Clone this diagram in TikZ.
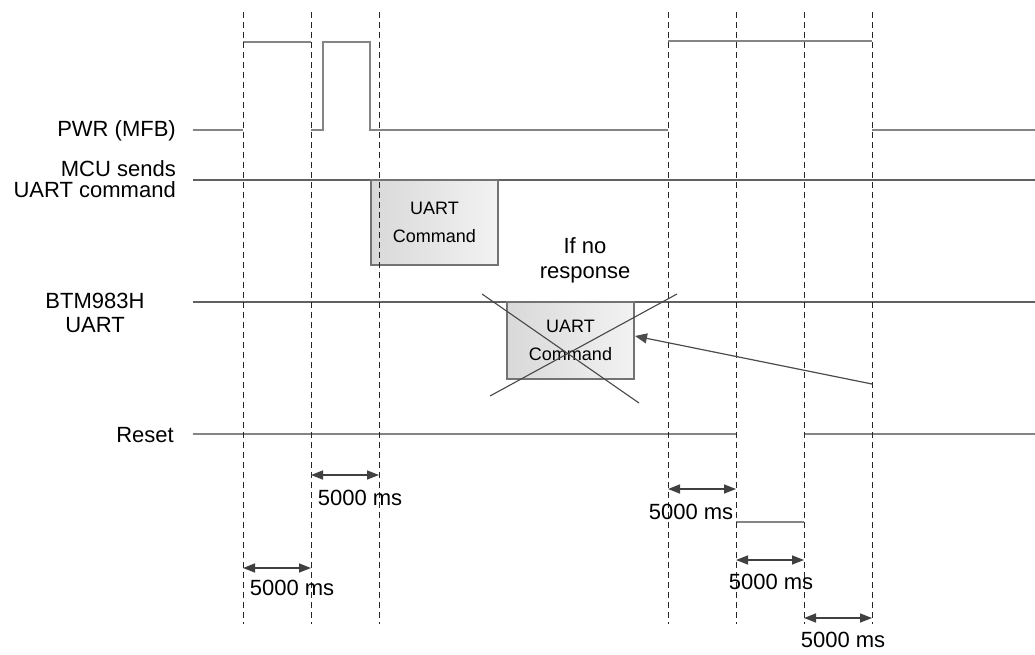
\documentclass[tikz,border=0pt]{standalone}
\usepackage{fontspec}
\setmainfont{Liberation Sans}
\usetikzlibrary{arrows.meta}
\begin{document}
\begin{tikzpicture}[x=1pt,y=-1pt,
  gridline/.style={line width=0.9pt, dash pattern=on 6pt off 4pt, black!85},
  wave/.style={line width=1.5pt, color=black!48},
  sig/.style={line width=1.2pt, color=black!62},
  dimarrow/.style={line width=1.5pt, color=black!75,
    {Triangle[length=12pt,width=9pt]}-{Triangle[length=12pt,width=9pt]}},
  pointer/.style={line width=1.2pt, color=black!70, -{Triangle[length=12pt,width=10pt]}},
  xline/.style={line width=1.1pt, color=black!72},
  lbl/.style={font=\fontsize{22}{24}\selectfont, inner sep=0pt},
  dimlbl/.style={font=\fontsize{22}{24}\selectfont, inner sep=0pt},
  cmdbox/.style={draw=black!55, line width=1.2pt, left color=black!15, right color=black!5,
    minimum width=127pt, minimum height=85pt, font=\fontsize{18}{27.5}\selectfont,
    align=center, inner sep=0pt},
  ]
\useasboundingbox (0,0) rectangle (1035,655);

% signal labels
\node[lbl, anchor=base east] (pwr) at (176,137) {PWR (MFB)};
\node[lbl, anchor=east, align=right, font=\fontsize{22}{21}\selectfont] (mcu) at (176,179.5) {MCU sends\\UART command};
\node[lbl, align=center, font=\fontsize{22}{24}\selectfont] (btm) at (95,313) {BTM983H\\UART};
\node[lbl, anchor=base east] (rst) at (174,442) {Reset};

% waveforms (edges on the time markers are hidden by the dashed lines)
\draw[wave] (193,130) -- (243,130);
\draw[wave] (243,42) -- (311,42);
\draw[wave] (311,130) -- (323,130) -- (323,42) -- (370,42) -- (370,130) -- (668,130);
\draw[wave] (668,41) -- (872,41);
\draw[wave] (872,130) -- (1035,130);
\draw[sig] (193,180) -- (1035,180);
\draw[sig] (193,302) -- (1035,302);
\draw[wave] (193,434) -- (736,434);
\draw[wave] (736,522) -- (804,522);
\draw[wave] (804,434) -- (1035,434);

% command boxes
\node[cmdbox] (cmd1) at (434.5,222.5) {UART\\Command};
\node[cmdbox, minimum height=77pt] (cmd2) at (570.5,340.5) {UART\\Command};

% dashed time markers
\foreach \x in {243,311,379,668,736,804,872}
  \draw[gridline] (\x,12) -- (\x,624);

% cross over second box
\coordinate (xa) at (482,294);
\coordinate (xb) at (639,403);
\coordinate (xc) at (677,294);
\coordinate (xd) at (490,396);
\draw[xline] (xa) -- (xb);
\draw[xline] (xc) -- (xd);

\node[lbl, align=center, font=\fontsize{22}{25}\selectfont] (nores) at (585,260.5) {If no\\response};

% pointer arrow
\coordinate (ptail) at (872,384);
\coordinate (phead) at (635,336);
\draw[pointer] (ptail) -- (phead);

% dimension arrows
\coordinate (d1a) at (311,475); \coordinate (d1b) at (379,475);
\coordinate (d2a) at (243,568); \coordinate (d2b) at (311,568);
\coordinate (d3a) at (668,489); \coordinate (d3b) at (736,489);
\coordinate (d4a) at (736,560); \coordinate (d4b) at (804,560);
\coordinate (d5a) at (804,618); \coordinate (d5b) at (872,618);
\draw[dimarrow] (d1a) -- (d1b);
\draw[dimarrow] (d2a) -- (d2b);
\draw[dimarrow] (d3a) -- (d3b);
\draw[dimarrow] (d4a) -- (d4b);
\draw[dimarrow] (d5a) -- (d5b);
\node[dimlbl] (t1) at (360,498) {5000 ms};
\node[dimlbl] (t2) at (292,588) {5000 ms};
\node[dimlbl] (t3) at (691,512) {5000 ms};
\node[dimlbl] (t4) at (771,582) {5000 ms};
\node[dimlbl] (t5) at (843,640) {5000 ms};
\end{tikzpicture}
\end{document}
